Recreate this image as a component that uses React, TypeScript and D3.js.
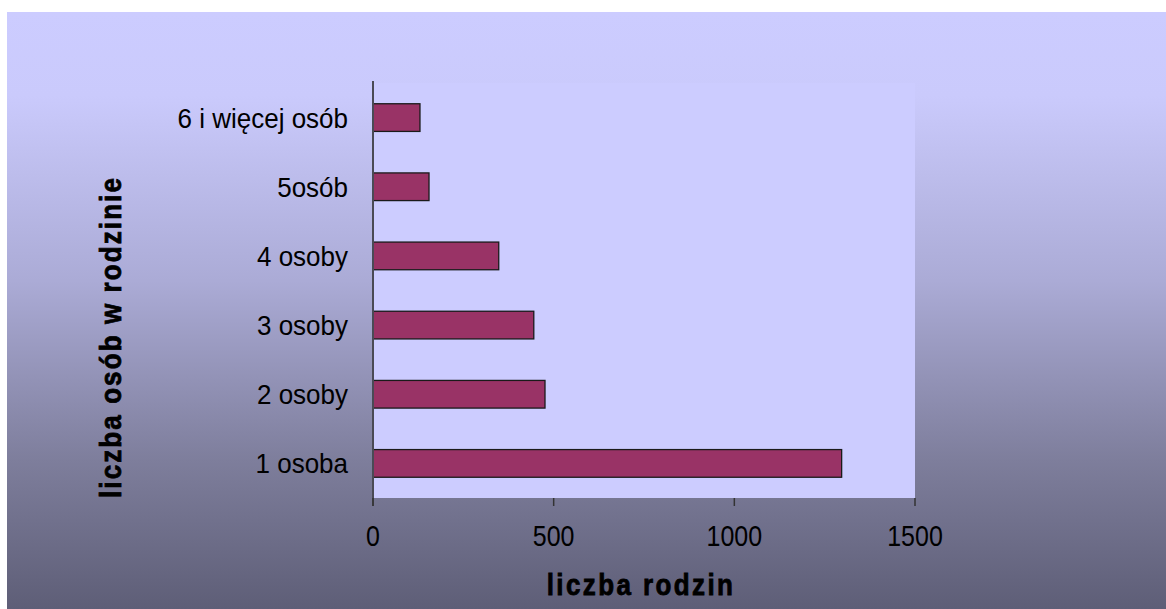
import React from "react";
import * as d3 from "d3";

const categories = ["6 i więcej osób", "5osób", "4 osoby", "3 osoby", "2 osoby", "1 osoba"];
const values = [130, 155, 348, 445, 476, 1297];
const xTicks = [0, 500, 1000, 1500];

const W = 1166;
const H = 609;
const plot = { left: 373, right: 915, top: 83, bottom: 498 };

const App = () => {
  const x = d3.scaleLinear().domain([0, 1500]).range([plot.left, plot.right]);
  const y = d3
    .scaleBand()
    .domain(categories)
    .range([plot.top, plot.bottom])
    .paddingInner(0.6)
    .paddingOuter(0.3);

  const font = "'Liberation Sans', Arial, sans-serif";

  return (
    <div style={{ position: "fixed", left: 0, top: 0 }}>
      <svg width={W} height={H} style={{ display: "block" }}>
        <defs>
          <linearGradient id="bg" x1="0" y1="0" x2="0" y2="1">
            <stop offset="0%" stopColor="#CCCCFF" />
            <stop offset="14%" stopColor="#CACAFC" />
            <stop offset="45%" stopColor="#ABABD6" />
            <stop offset="75%" stopColor="#7E7E9C" />
            <stop offset="100%" stopColor="#5E5E77" />
          </linearGradient>
        </defs>
        <rect x={0} y={0} width={W} height={H} fill="#fff" />
        <rect x={7} y={12} width={W - 7} height={H - 12} fill="url(#bg)" />

        {/* plot area */}
        <rect
          x={plot.left}
          y={plot.top}
          width={plot.right - plot.left}
          height={plot.bottom - plot.top}
          fill="#CCCCFF"
        />

        {/* bars */}
        {categories.map((c, i) => (
          <rect
            key={c}
            x={x(0)}
            y={y(c)}
            width={x(values[i]) - x(0)}
            height={y.bandwidth()}
            fill="#993366"
            stroke="#1a1a1a"
            strokeWidth={1.3}
          />
        ))}

        {/* y axis line */}
        <line x1={plot.left} x2={plot.left} y1={plot.top - 2} y2={plot.bottom + 8} stroke="#4a4a55" strokeWidth={2} />

        {/* x ticks */}
        {xTicks.map((t) => (
          <g key={t}>
            <line x1={x(t)} x2={x(t)} y1={plot.bottom} y2={plot.bottom + 8} stroke="#333" strokeWidth={1.5} />
            <text
              transform={`translate(${x(t)}, 546) scale(1, 1.15)`}
              textAnchor="middle"
              fontFamily={font}
              fontSize={25}
              fill="#000"
            >
              {t}
            </text>
          </g>
        ))}

        {/* category labels */}
        {categories.map((c) => (
          <text
            key={c}
            transform={`translate(348, ${(y(c) ?? 0) + y.bandwidth() / 2 + 10}) scale(1, 1.08)`}
            textAnchor="end"
            fontFamily={font}
            fontSize={26}
            fill="#000"
          >
            {c}
          </text>
        ))}

        {/* axis titles */}
        <text
          transform="translate(641, 595) scale(1, 1.15)"
          textAnchor="middle"
          fontFamily={font}
          fontWeight="bold"
          fontSize={26}
          letterSpacing={2.4}
          stroke="#000"
          strokeWidth={0.7}
          fill="#000"
        >
          liczba rodzin
        </text>
        <text
          transform="translate(121, 337) rotate(-90) scale(1, 1.15)"
          textAnchor="middle"
          fontFamily={font}
          fontWeight="bold"
          fontSize={26}
          letterSpacing={2.1}
          stroke="#000"
          strokeWidth={0.7}
          fill="#000"
        >
          liczba osób w rodzinie
        </text>
      </svg>
    </div>
  );
};

export default App;
